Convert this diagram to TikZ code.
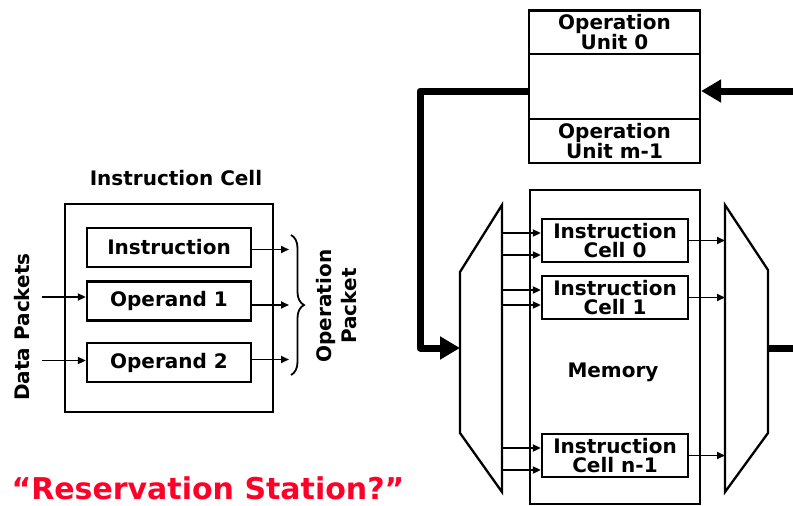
\documentclass[tikz,border=0pt]{standalone}
\usepackage{fontspec}
\setmainfont{DejaVu Sans}
\usetikzlibrary{arrows.meta,decorations.pathreplacing,calc}
\definecolor{rsred}{RGB}{255,0,40}

\tikzset{
  box/.style={draw, line width=2.3pt, inner sep=0pt, align=center},
  inbox/.style={box, minimum width=164pt, minimum height=39pt},
  cellbox/.style={box, minimum width=146pt, minimum height=43pt},
  arr/.style={line width=1.8pt, -{Triangle[length=8pt,width=7pt]}},
  bus/.style={line width=7pt, line join=round},
  bustip/.style={-{Triangle[length=20pt,width=22pt]}},
  mux/.style={line width=2.3pt, line join=miter},
  lbl/.style={font=\bfseries\fontsize{20}{19}\selectfont, align=center, inner sep=0pt}
}

\begin{document}
\begin{tikzpicture}[x=1pt,y=-1pt]
\useasboundingbox (0,0) rectangle (793,506);

% ---------- single instruction cell ----------
\node[lbl] (title) at (176,178) {Instruction Cell};
\node[box, minimum width=208pt, minimum height=208pt] (outer) at (169,308) {};
\node[inbox, lbl] (instr) at (169,247.5) {Instruction};
\node[inbox, lbl] (op1) at (169,301) {Operand 1};
\node[inbox, lbl] (op2) at (169,362.5) {Operand 2};

\coordinate (dp) at (42,0);
\coordinate (pk) at (289,0);
\draw[arr] ([yshift=4pt]op1.west -| dp) -- ([yshift=4pt]op1.west);
\draw[arr] ([yshift=2pt]op2.west -| dp) -- ([yshift=2pt]op2.west);
\draw[arr] ([yshift=-2pt]instr.east) -- ([yshift=-2pt]instr.east -| pk);
\draw[arr] ([yshift=-4pt]op1.east) -- ([yshift=-4pt]op1.east -| pk);
\draw[arr] ([yshift=3pt]op2.east) -- ([yshift=3pt]op2.east -| pk);

\coordinate (bt) at (291,235);
\coordinate (bb) at (291,375);
\draw[line width=1.8pt, decorate, decoration={brace, amplitude=13pt}] (bt) -- (bb);

\node[lbl, rotate=90] (dpk) at (22,327) {Data Packets};
\node[lbl, rotate=90, font=\bfseries\fontsize{20}{25}\selectfont] (opk) at (337,306) {Operation\\Packet};

\node[font=\bfseries\fontsize{30}{30}\selectfont, text=rsred, inner sep=0pt] (rs) at (208,488) {“Reservation Station?”};

% ---------- operation units ----------
\node[box, minimum width=171pt, minimum height=43.5pt, lbl] (ou0) at (614.5,32.3) {Operation\\Unit 0};
\node[box, minimum width=171pt, minimum height=65pt] (oumid) at (614.5,86.5) {};
\node[box, minimum width=171pt, minimum height=44pt, lbl] (ou1) at (614.5,141) {Operation\\Unit m-1};

% ---------- memory ----------
\node[box, minimum width=170pt, minimum height=314pt] (mem) at (615,347) {};
\node[lbl] (memlbl) at (613,372) {Memory};
\node[cellbox, lbl] (c0) at (615,240.5) {Instruction\\Cell 0};
\node[cellbox, lbl] (c1) at (615,297.5) {Instruction\\Cell 1};
\node[cellbox, lbl] (cn) at (615,455.5) {Instruction\\Cell n-1};

% distribution and arbitration networks
\coordinate (ml1) at (502,205);
\coordinate (ml2) at (460,272);
\coordinate (ml3) at (460,433);
\coordinate (ml4) at (502,492);
\draw[mux] (ml1) -- (ml2) -- (ml3) -- (ml4) -- cycle;
\coordinate (mr1) at (725,205);
\coordinate (mr2) at (768,270);
\coordinate (mr3) at (768,433);
\coordinate (mr4) at (725,492);
\draw[mux] (mr1) -- (mr2) -- (mr3) -- (mr4) -- cycle;

% cell inputs
\draw[arr] ([yshift=7.5pt]c0.west -| ml1) -- ([yshift=7.5pt]c0.west);
\draw[arr] ([yshift=-14.5pt]c0.west -| ml1) -- ([yshift=-14.5pt]c0.west);
\draw[arr] ([yshift=7.5pt]c1.west -| ml1) -- ([yshift=7.5pt]c1.west);
\draw[arr] ([yshift=-7.5pt]c1.west -| ml1) -- ([yshift=-7.5pt]c1.west);
\draw[arr] ([yshift=7.5pt]cn.west -| ml1) -- ([yshift=7.5pt]cn.west);
\draw[arr] ([yshift=-14.5pt]cn.west -| ml1) -- ([yshift=-14.5pt]cn.west);
% cell outputs
\draw[arr] (c0.east) -- (c0.east -| mr1);
\draw[arr] (c1.east) -- (c1.east -| mr1);
\draw[arr] (cn.east) -- (cn.east -| mr1);

% thick buses
\coordinate (busA) at (420,91);
\coordinate (busB) at (420,348);
\coordinate (mlin) at (460,348);
\coordinate (mrout) at (768,348);
\coordinate (rin) at (793,91);
\coordinate (rout) at (793,348);
\draw[bus, bustip] ([yshift=-4.5pt]oumid.west) -- (busA) -- (busB) -- (mlin);
\draw[bus, bustip] (rin) -- ([yshift=-4.5pt]oumid.east);
\draw[bus] (mrout) -- (rout);
\end{tikzpicture}
\end{document}
